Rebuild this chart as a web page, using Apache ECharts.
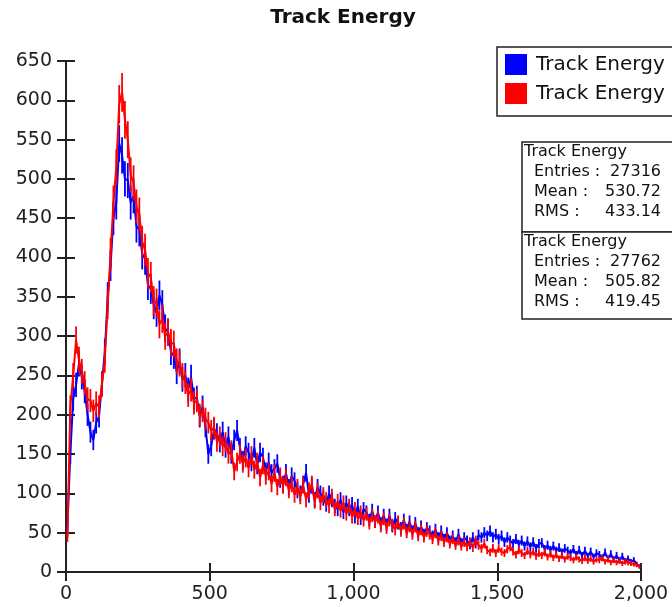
<!DOCTYPE html>
<html>
<head>
<meta charset="utf-8">
<script src="https://cdn.jsdelivr.net/npm/echarts@6/dist/echarts.min.js"></script>
<style>
html,body{margin:0;padding:0;background:#fff;}
#chart{width:672px;height:607px;}
</style>
</head>
<body>
<div id="chart"></div>
<script>
// ---- data (counts per 10-unit energy bin, bins 0-10, 10-20, ... 1990-2000) ----
const title = "Track Energy";
const seriesNames = ["Track Energy", "Track Energy"];
const xTicks = [0, 500, 1000, 1500, 2000];
const yTicks = [0, 50, 100, 150, 200, 250, 300, 350, 400, 450, 500, 550, 600, 650];
const binLow = 0, binHigh = 2000, binCount = 200;

const blueCounts = [
  60,150,220,238,265,248,230,200,178,168,
  190,198,240,280,350,390,450,470,545,530,
  500,498,470,478,440,435,405,398,365,360,
  340,330,352,340,310,305,280,275,255,268,
  245,250,232,248,220,222,198,210,185,150,
  160,182,176,165,178,158,172,150,168,180,
  158,142,160,152,140,158,136,152,146,128,
  140,126,132,138,118,112,126,108,122,116,
  104,100,112,126,98,110,92,108,100,94,
  86,100,92,84,80,92,76,88,80,86,
  70,84,68,80,76,66,78,64,76,62,
  72,60,72,58,68,62,56,66,54,64,
  52,62,50,58,48,56,52,46,54,44,
  52,42,50,40,46,38,48,37,44,40,
  35,44,36,47,44,50,46,52,44,48,
  42,46,38,44,40,36,42,35,40,33,
  39,32,38,30,36,37,29,34,28,33,
  27,31,25,30,27,24,29,22,28,21,
  27,20,26,19,24,22,18,25,17,23,
  16,21,15,20,14,17,13,15,10,7
];
const redCounts = [
  45,210,250,295,270,255,240,220,218,205,
  215,210,238,270,340,405,470,515,595,610,
  575,550,505,495,465,455,420,410,380,375,
  345,342,315,322,300,305,292,290,268,265,
  250,242,225,232,215,218,200,205,195,190,
  180,184,166,172,160,165,150,155,128,140,
  150,138,145,132,148,130,140,120,136,122,
  128,112,126,108,122,110,120,104,112,98,
  108,96,110,92,104,112,90,104,88,98,
  92,84,96,80,90,78,88,74,84,70,
  80,68,76,66,74,62,72,64,70,58,
  68,56,66,60,54,64,52,62,50,58,
  48,58,46,54,44,52,48,42,50,40,
  46,38,44,36,42,34,40,33,38,32,
  38,31,40,34,30,36,28,25,30,24,
  30,26,24,29,32,26,22,28,24,21,
  27,22,26,20,24,21,25,19,23,18,
  22,17,21,16,20,18,15,19,16,14,
  18,14,17,13,16,15,18,13,16,12,
  15,12,14,11,13,12,11,10,9,7
];
const statsBlue = { entries: "27316", mean: "530.72", rms: "433.14" };
const statsRed  = { entries: "27762", mean: "505.82", rms: "419.45" };

// ---- build ----
const binWidth = (binHigh - binLow) / binCount;
const centers = blueCounts.map((_, i) => binLow + binWidth * (i + 0.5));
const blueData = blueCounts.map((v, i) => [centers[i], v]);
const redData = redCounts.map((v, i) => [centers[i], v]);
const blueErr = blueCounts.map((v, i) => [centers[i], v, Math.sqrt(v)]);
const redErr = redCounts.map((v, i) => [centers[i], v, Math.sqrt(v)]);

const FONT = "DejaVu Sans";
const AX = "#222";

function errRender(color) {
  return function (params, api) {
    const x = api.value(0), y = api.value(1), e = api.value(2);
    const t = api.coord([x, y + e]);
    const b = api.coord([x, Math.max(0, y - e)]);
    return { type: 'line', shape: { x1: t[0], y1: t[1], x2: b[0], y2: b[1] },
             style: { stroke: color, lineWidth: 1.8 } };
  };
}

const fmt = v => String(v).replace(/\B(?=(\d{3})+(?!\d))/g, ",");

const chart = echarts.init(document.getElementById('chart'), null, { renderer: 'canvas' });
const xBase = { type: 'value', min: binLow, max: binHigh, interval: 500,
  splitLine: { show: false } };
const yBase = { type: 'value', min: 0, max: 650, interval: 50, splitLine: { show: false } };

function statGraphics(x, y, s) {
  const f = '16px "' + FONT + '"';
  return [
    { type: 'text', left: x + 2, top: y + 2, style: { text: title, font: f, fill: '#111' } },
    { type: 'text', left: x + 12, top: y + 22, style: { text: 'Entries :', font: f, fill: '#111' } },
    { type: 'text', left: x + 12, top: y + 42, style: { text: 'Mean :', font: f, fill: '#111' } },
    { type: 'text', left: x + 12, top: y + 62, style: { text: 'RMS :', font: f, fill: '#111' } },
    { type: 'text', x: x + 139, y: y + 22, style: { text: s.entries, font: f, fill: '#111', textAlign: 'right' } },
    { type: 'text', x: x + 139, y: y + 42, style: { text: s.mean, font: f, fill: '#111', textAlign: 'right' } },
    { type: 'text', x: x + 139, y: y + 62, style: { text: s.rms, font: f, fill: '#111', textAlign: 'right' } }
  ];
}

chart.setOption({
  animation: false,
  backgroundColor: '#fff',
  grid: { left: 66, right: 31, top: 61, bottom: 35, containLabel: false },
  xAxis: [
    Object.assign({}, xBase, {
      position: 'bottom',
      axisLine: { show: true, onZero: false, lineStyle: { color: AX, width: 2 } },
      axisTick: { show: true, inside: false, length: 9, lineStyle: { color: AX, width: 2 } },
      axisLabel: { show: true, margin: 13, color: '#222', fontFamily: FONT, fontSize: 19, formatter: fmt }
    }),
    Object.assign({}, xBase, {
      position: 'bottom',
      axisLine: { show: false, onZero: false },
      axisTick: { show: true, inside: true, length: 9, lineStyle: { color: AX, width: 2 } },
      axisLabel: { show: false }
    })
  ],
  yAxis: [
    Object.assign({}, yBase, {
      position: 'left',
      axisLine: { show: true, onZero: false, lineStyle: { color: AX, width: 2 } },
      axisTick: { show: true, inside: false, length: 9, lineStyle: { color: AX, width: 2 } },
      axisLabel: { show: true, margin: 14, color: '#222', fontFamily: FONT, fontSize: 19 }
    }),
    Object.assign({}, yBase, {
      position: 'left',
      axisLine: { show: false, onZero: false },
      axisTick: { show: true, inside: true, length: 9, lineStyle: { color: AX, width: 2 } },
      axisLabel: { show: false }
    })
  ],
  series: [
    { name: seriesNames[0], type: 'line', data: blueData, showSymbol: false, symbol: 'none',
      lineStyle: { color: '#0000ff', width: 2 }, itemStyle: { color: '#0000ff' }, z: 2 },
    { name: seriesNames[0] + ' err', type: 'custom', data: blueErr, renderItem: errRender('#0000ff'), z: 2 },
    { name: seriesNames[1], type: 'line', data: redData, showSymbol: false, symbol: 'none',
      lineStyle: { color: '#ff0000', width: 2 }, itemStyle: { color: '#ff0000' }, z: 3 },
    { name: seriesNames[1] + ' err', type: 'custom', data: redErr, renderItem: errRender('#ff0000'), z: 3 }
  ],
  graphic: [
    { type: 'text', x: 343, y: 18, style: { text: title, font: 'bold 20px "' + FONT + '"', fill: '#111', textAlign: 'center', textVerticalAlign: 'middle' } },
    { type: 'rect', shape: { x: 497, y: 47, width: 220, height: 69 }, style: { fill: '#fff', stroke: '#222', lineWidth: 1.5 } },
    { type: 'rect', shape: { x: 505, y: 54, width: 22, height: 21 }, style: { fill: '#0000ff' } },
    { type: 'rect', shape: { x: 505, y: 83, width: 22, height: 21 }, style: { fill: '#ff0000' } },
    { type: 'text', x: 536, y: 65, style: { text: seriesNames[0], font: '20px "' + FONT + '"', fill: '#111', textVerticalAlign: 'middle' } },
    { type: 'text', x: 536, y: 94, style: { text: seriesNames[1], font: '20px "' + FONT + '"', fill: '#111', textVerticalAlign: 'middle' } },
    { type: 'rect', shape: { x: 522, y: 142, width: 200, height: 90 }, style: { fill: '#fff', stroke: '#222', lineWidth: 1.5 } },
    { type: 'rect', shape: { x: 522, y: 232, width: 200, height: 87 }, style: { fill: '#fff', stroke: '#222', lineWidth: 1.5 } }
  ].concat(statGraphics(522, 142, statsBlue)).concat(statGraphics(522, 232, statsRed))
});
</script>
</body>
</html>
